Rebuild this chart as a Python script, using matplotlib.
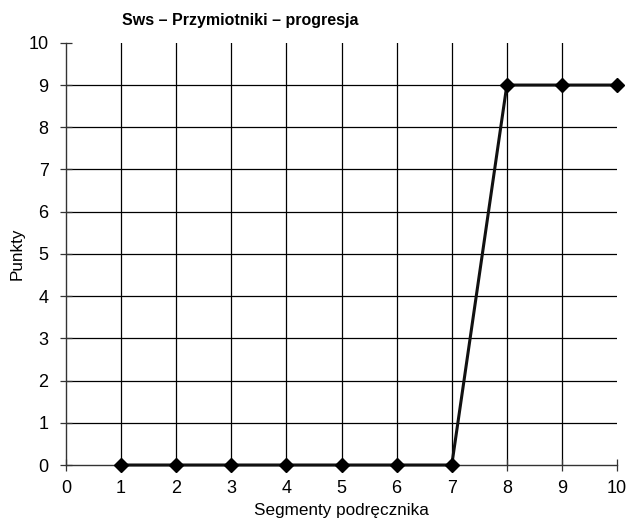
import matplotlib.pyplot as plt

# data
segments = [1, 2, 3, 4, 5, 6, 7, 8, 9, 10]
punkty = [0, 0, 0, 0, 0, 0, 0, 9, 9, 9]
ticks = list(range(0, 11))

plt.rcParams['font.family'] = ['Liberation Sans', 'DejaVu Sans']

fig = plt.figure(figsize=(6.32, 5.18), dpi=100)
ax = fig.add_axes([0.1044, 0.1023, 0.872, 0.815])

# grid (no line at the far edges)
for t in ticks[1:-1]:
    ax.axvline(t, color='black', lw=0.9, zorder=1)
    ax.axhline(t, color='black', lw=0.9, zorder=1)

ax.plot(segments, punkty, color='#111111', lw=2.2, marker='D', markersize=7.5,
        markerfacecolor='black', markeredgecolor='black', clip_on=False, zorder=3)

ax.set_xlim(0, 10)
ax.set_ylim(0, 10)
ax.set_xticks(ticks)
ax.set_yticks(ticks)
ax.tick_params(direction='inout', length=9, width=0.9, labelsize=13, colors='#333333',
               labelcolor='black')
ax.tick_params(axis='x', pad=6.5)
ax.tick_params(axis='y', pad=8)
for s in ['top', 'right']:
    ax.spines[s].set_visible(False)
for s in ['left', 'bottom']:
    ax.spines[s].set_linewidth(1.0)
    ax.spines[s].set_color('#333333')

ax.set_xlabel('Segmenty podręcznika', fontsize=12.3, labelpad=4)
ax.set_ylabel('Punkty', fontsize=12.3, labelpad=3)
fig.text(240 / 632, 1 - 20 / 518, 'Sws – Przymiotniki – progresja', fontsize=11.5,
         fontweight='bold', ha='center', va='center')

plt.savefig('out.png', dpi=100)
